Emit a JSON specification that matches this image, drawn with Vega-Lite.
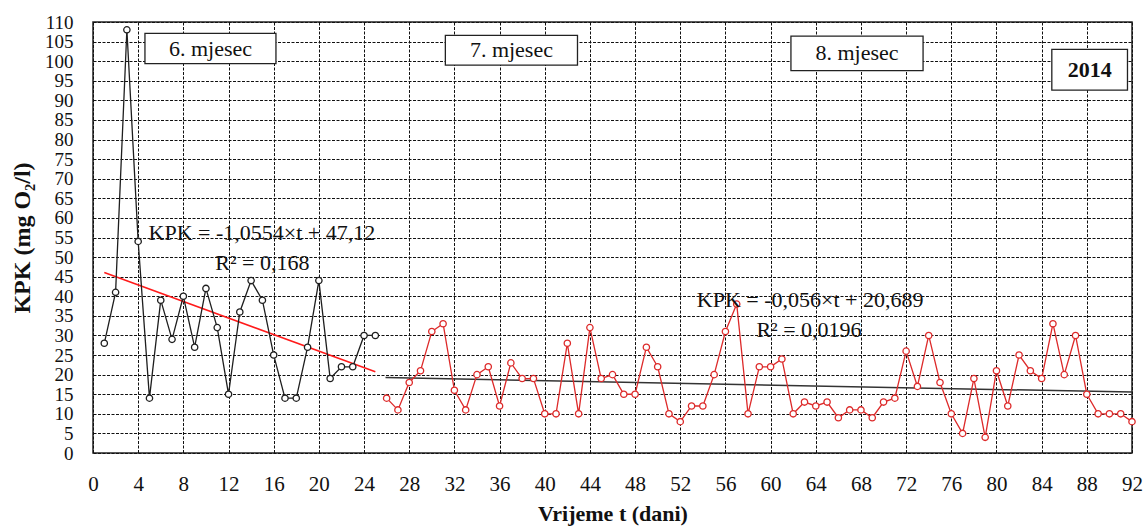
{
  "$schema": "https://vega.github.io/schema/vega-lite/v6.json",
  "width": 1039,
  "height": 431,
  "autosize": {"type": "none"},
  "padding": {"left": 93, "top": 22, "right": 14, "bottom": 77},
  "background": "white",
  "config": {
    "font": "Liberation Serif, Times New Roman, serif",
    "view": {"stroke": "#222", "strokeWidth": 1.5},
    "text": {"font": "Liberation Serif, Times New Roman, serif"},
    "axis": {
      "labelFont": "Liberation Serif, Times New Roman, serif",
      "titleFont": "Liberation Serif, Times New Roman, serif",
      "labelColor": "#111",
      "titleColor": "#111",
      "labelFontSize": 21,
      "titleFontWeight": "bold",
      "labelOverlap": false,
      "ticks": false,
      "domain": false,
      "grid": true,
      "gridColor": "#111",
      "gridDash": [3, 1.5],
      "gridWidth": 1,
      "gridOpacity": 1
    }
  },
  "datasets": {
    "obs": [
      {"t": 1, "v": 28, "s": "jun"}, {"t": 2, "v": 41, "s": "jun"}, {"t": 3, "v": 108, "s": "jun"},
      {"t": 4, "v": 54, "s": "jun"}, {"t": 5, "v": 14, "s": "jun"}, {"t": 6, "v": 39, "s": "jun"},
      {"t": 7, "v": 29, "s": "jun"}, {"t": 8, "v": 40, "s": "jun"}, {"t": 9, "v": 27, "s": "jun"},
      {"t": 10, "v": 42, "s": "jun"}, {"t": 11, "v": 32, "s": "jun"}, {"t": 12, "v": 15, "s": "jun"},
      {"t": 13, "v": 36, "s": "jun"}, {"t": 14, "v": 44, "s": "jun"}, {"t": 15, "v": 39, "s": "jun"},
      {"t": 16, "v": 25, "s": "jun"}, {"t": 17, "v": 14, "s": "jun"}, {"t": 18, "v": 14, "s": "jun"},
      {"t": 19, "v": 27, "s": "jun"}, {"t": 20, "v": 44, "s": "jun"}, {"t": 21, "v": 19, "s": "jun"},
      {"t": 22, "v": 22, "s": "jun"}, {"t": 23, "v": 22, "s": "jun"}, {"t": 24, "v": 30, "s": "jun"},
      {"t": 25, "v": 30, "s": "jun"},
      {"t": 26, "v": 14, "s": "julaug"}, {"t": 27, "v": 11, "s": "julaug"}, {"t": 28, "v": 18, "s": "julaug"},
      {"t": 29, "v": 21, "s": "julaug"}, {"t": 30, "v": 31, "s": "julaug"}, {"t": 31, "v": 33, "s": "julaug"},
      {"t": 32, "v": 16, "s": "julaug"}, {"t": 33, "v": 11, "s": "julaug"}, {"t": 34, "v": 20, "s": "julaug"},
      {"t": 35, "v": 22, "s": "julaug"}, {"t": 36, "v": 12, "s": "julaug"}, {"t": 37, "v": 23, "s": "julaug"},
      {"t": 38, "v": 19, "s": "julaug"}, {"t": 39, "v": 19, "s": "julaug"}, {"t": 40, "v": 10, "s": "julaug"},
      {"t": 41, "v": 10, "s": "julaug"}, {"t": 42, "v": 28, "s": "julaug"}, {"t": 43, "v": 10, "s": "julaug"},
      {"t": 44, "v": 32, "s": "julaug"}, {"t": 45, "v": 19, "s": "julaug"}, {"t": 46, "v": 20, "s": "julaug"},
      {"t": 47, "v": 15, "s": "julaug"}, {"t": 48, "v": 15, "s": "julaug"}, {"t": 49, "v": 27, "s": "julaug"},
      {"t": 50, "v": 22, "s": "julaug"}, {"t": 51, "v": 10, "s": "julaug"}, {"t": 52, "v": 8, "s": "julaug"},
      {"t": 53, "v": 12, "s": "julaug"}, {"t": 54, "v": 12, "s": "julaug"}, {"t": 55, "v": 20, "s": "julaug"},
      {"t": 56, "v": 31, "s": "julaug"}, {"t": 57, "v": 38, "s": "julaug"}, {"t": 58, "v": 10, "s": "julaug"},
      {"t": 59, "v": 22, "s": "julaug"}, {"t": 60, "v": 22, "s": "julaug"}, {"t": 61, "v": 24, "s": "julaug"},
      {"t": 62, "v": 10, "s": "julaug"}, {"t": 63, "v": 13, "s": "julaug"}, {"t": 64, "v": 12, "s": "julaug"},
      {"t": 65, "v": 13, "s": "julaug"}, {"t": 66, "v": 9, "s": "julaug"}, {"t": 67, "v": 11, "s": "julaug"},
      {"t": 68, "v": 11, "s": "julaug"}, {"t": 69, "v": 9, "s": "julaug"}, {"t": 70, "v": 13, "s": "julaug"},
      {"t": 71, "v": 14, "s": "julaug"}, {"t": 72, "v": 26, "s": "julaug"}, {"t": 73, "v": 17, "s": "julaug"},
      {"t": 74, "v": 30, "s": "julaug"}, {"t": 75, "v": 18, "s": "julaug"}, {"t": 76, "v": 10, "s": "julaug"},
      {"t": 77, "v": 5, "s": "julaug"}, {"t": 78, "v": 19, "s": "julaug"}, {"t": 79, "v": 4, "s": "julaug"},
      {"t": 80, "v": 21, "s": "julaug"}, {"t": 81, "v": 12, "s": "julaug"}, {"t": 82, "v": 25, "s": "julaug"},
      {"t": 83, "v": 21, "s": "julaug"}, {"t": 84, "v": 19, "s": "julaug"}, {"t": 85, "v": 33, "s": "julaug"},
      {"t": 86, "v": 20, "s": "julaug"}, {"t": 87, "v": 30, "s": "julaug"}, {"t": 88, "v": 15, "s": "julaug"},
      {"t": 89, "v": 10, "s": "julaug"}, {"t": 90, "v": 10, "s": "julaug"}, {"t": 91, "v": 10, "s": "julaug"},
      {"t": 92, "v": 8, "s": "julaug"}
    ],
    "trend": [
      {"t": 1, "v": 46.06, "g": "jun"}, {"t": 25, "v": 20.73, "g": "jun"},
      {"t": 25.9, "v": 19.24, "g": "julaug"}, {"t": 92, "v": 15.54, "g": "julaug"}
    ],
    "months": [{"t": 30}, {"t": 61}],
    "boxes": [
      {"x1": 4.6, "x2": 16.2, "y1": 99.4, "y2": 107.1, "xc": 10.4, "yc": 103.2, "label": "6. mjesec"},
      {"x1": 31.2, "x2": 42.9, "y1": 99.0, "y2": 106.6, "xc": 37.05, "yc": 102.8, "label": "7. mjesec"},
      {"x1": 61.8, "x2": 73.5, "y1": 97.6, "y2": 106.4, "xc": 67.65, "yc": 102.0, "label": "8. mjesec"},
      {"x1": 84.9, "x2": 91.6, "y1": 92.6, "y2": 103.0, "xc": 88.25, "yc": 97.8, "label": "2014"}
    ],
    "eqs": [
      {"t": 14.95, "v": 56.1, "label": "KPK = -1,0554×t + 47,12"},
      {"t": 15.0, "v": 48.5, "label": "R² = 0,168"},
      {"t": 63.5, "v": 39.0, "label": "KPK = -0,056×t + 20,689"},
      {"t": 63.4, "v": 31.5, "label": "R² = 0,0196"}
    ]
  },
  "encoding": {
    "x": {
      "field": "t", "type": "quantitative",
      "scale": {"domain": [0, 92], "nice": false, "zero": false},
      "axis": {
        "values": [0, 4, 8, 12, 16, 20, 24, 28, 32, 36, 40, 44, 48, 52, 56, 60, 64, 68, 72, 76, 80, 84, 88, 92],
        "title": "Vrijeme t (dani)", "titleFontSize": 22, "labelPadding": 20, "titlePadding": 9,
        "labelFlush": false
      }
    },
    "y": {
      "field": "v", "type": "quantitative",
      "scale": {"domain": [0, 110], "nice": false},
      "axis": {
        "values": [0, 5, 10, 15, 20, 25, 30, 35, 40, 45, 50, 55, 60, 65, 70, 75, 80, 85, 90, 95, 100, 105, 110],
        "title": "KPK (mg O₂/l)", "titleFontSize": 24, "labelFontSize": 19, "labelPadding": 20, "titlePadding": 10,
        "labelFlush": false
      }
    }
  },
  "layer": [
    {
      "data": {"name": "months"},
      "mark": {"type": "rule", "color": "#9aaa55", "strokeDash": [2, 2], "strokeWidth": 1},
      "encoding": {"x": {"field": "t", "type": "quantitative"}, "y": {"datum": 0}, "y2": {"datum": 110}}
    },
    {
      "data": {"name": "trend"},
      "mark": {"type": "line", "strokeWidth": 1.5},
      "encoding": {
        "detail": {"field": "g"},
        "color": {"field": "g", "type": "nominal", "scale": {"domain": ["jun", "julaug"], "range": ["#ff1a1a", "#333333"]}, "legend": null}
      }
    },
    {
      "data": {"name": "obs"},
      "mark": {"type": "line", "strokeWidth": 1.3, "point": {"filled": false, "fill": "white", "size": 40, "strokeWidth": 1.3}},
      "encoding": {
        "detail": {"field": "s"},
        "stroke": {"field": "s", "type": "nominal", "scale": {"domain": ["jun", "julaug"], "range": ["#1e1e1e", "#dd2a2a"]}, "legend": null}
      }
    },
    {
      "data": {"name": "boxes"},
      "mark": {"type": "rect", "fill": "white", "stroke": "#222", "strokeWidth": 1.3},
      "encoding": {
        "x": {"field": "x1", "type": "quantitative"},
        "x2": {"field": "x2"},
        "y": {"field": "y1", "type": "quantitative"},
        "y2": {"field": "y2"}
      }
    },
    {
      "data": {"name": "boxes"},
      "transform": [{"filter": "datum.label != '2014'"}],
      "mark": {"type": "text", "font": "Liberation Serif, Times New Roman, serif", "fontSize": 22, "color": "#111", "align": "center", "baseline": "middle"},
      "encoding": {
        "x": {"field": "xc", "type": "quantitative"},
        "y": {"field": "yc", "type": "quantitative"},
        "text": {"field": "label"}
      }
    },
    {
      "data": {"name": "boxes"},
      "transform": [{"filter": "datum.label == '2014'"}],
      "mark": {"type": "text", "font": "Liberation Serif, Times New Roman, serif", "fontSize": 22, "fontWeight": "bold", "color": "#111", "align": "center", "baseline": "middle"},
      "encoding": {
        "x": {"field": "xc", "type": "quantitative"},
        "y": {"field": "yc", "type": "quantitative"},
        "text": {"field": "label"}
      }
    },
    {
      "data": {"name": "eqs"},
      "mark": {"type": "text", "font": "Liberation Serif, Times New Roman, serif", "fontSize": 22, "color": "#111", "align": "center", "baseline": "middle"},
      "encoding": {
        "x": {"field": "t", "type": "quantitative"},
        "y": {"field": "v", "type": "quantitative"},
        "text": {"field": "label"}
      }
    }
  ]
}
